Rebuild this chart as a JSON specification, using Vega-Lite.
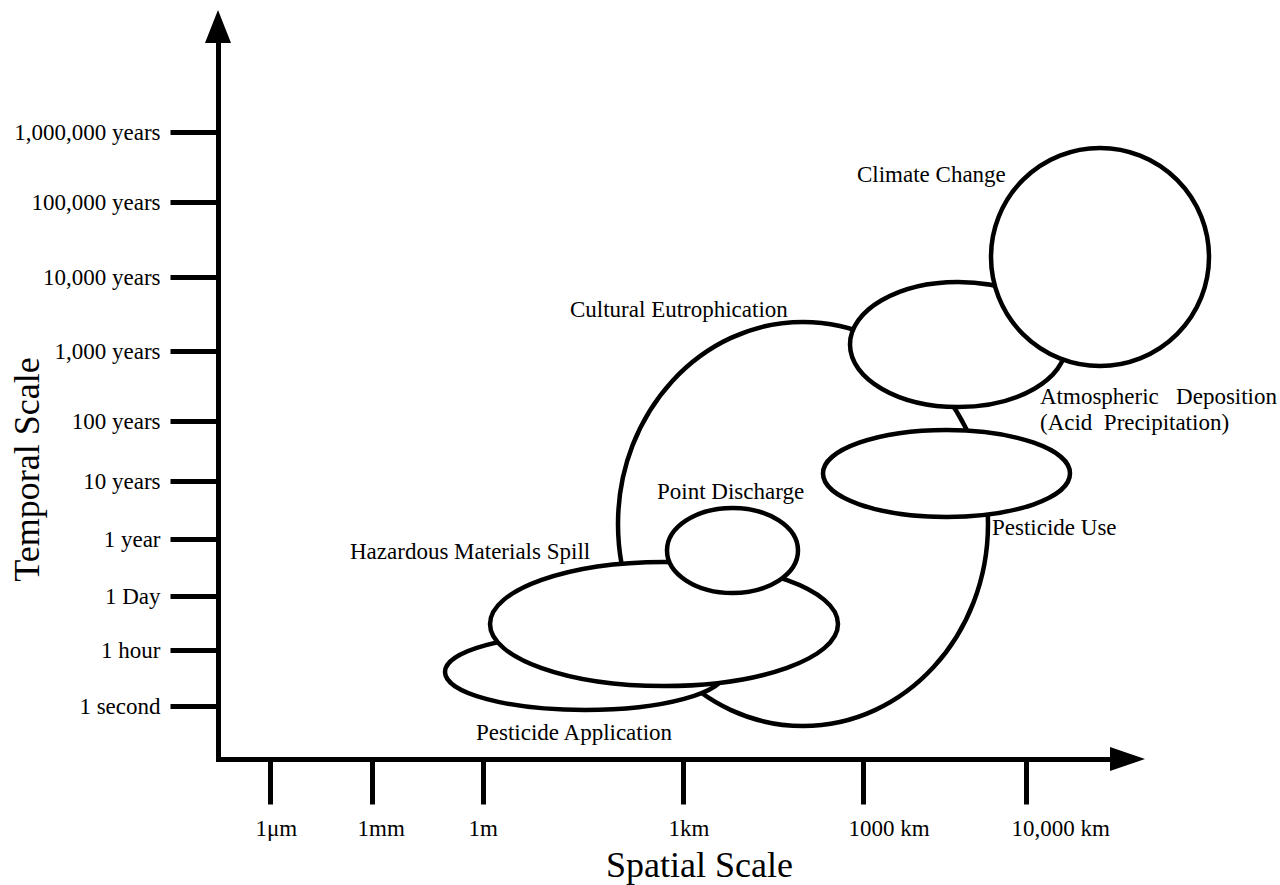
{
  "$schema": "https://vega.github.io/schema/vega-lite/v6.json",
  "width": 912,
  "height": 734,
  "autosize": {"type": "none"},
  "padding": {"left": 218, "top": 25, "right": 150, "bottom": 126},
  "background": "white",
  "config": {"view": {"stroke": null}},
  "layer": [
    {
      "data": {"values": [
        {"name": "Cultural Eutrophication", "x": 585, "y": 235, "w": 370},
        {"name": "Pesticide Application", "x": 367, "y": 87, "w": 280},
        {"name": "Hazardous Materials Spill", "x": 446, "y": 135, "w": 348},
        {"name": "Point Discharge", "x": 514.5, "y": 208.5, "w": 131},
        {"name": "Pesticide Use", "x": 728.5, "y": 285.5, "w": 247},
        {"name": "Atmospheric Deposition", "x": 740, "y": 414.5, "w": 216},
        {"name": "Climate Change", "x": 882, "y": 502, "w": 218}
      ]},
      "mark": {"type": "point", "filled": true, "fill": "white", "stroke": "black", "strokeWidth": 4.5, "opacity": 1, "fillOpacity": 1, "strokeOpacity": 1},
      "encoding": {
        "x": {
          "field": "x", "type": "quantitative",
          "scale": {"domain": [0, 912], "nice": false, "zero": false},
          "axis": {
            "values": [52, 154, 265, 465, 645, 808],
            "labelExpr": "['1μm','1mm','1m','1km','1000 km','10,000 km'][indexof([52,154,265,465,645,808], datum.value)]",
            "grid": false,
            "domain": true, "domainColor": "black", "domainWidth": 5, "domainCap": "square",
            "ticks": true, "tickColor": "black", "tickWidth": 5, "tickSize": 45,
            "labelFont": "Liberation Serif", "labelFontSize": 23, "labelColor": "black",
            "labelAlign": "left", "labelOffset": -15, "labelPadding": 13, "labelBaseline": "top",
            "labelFlush": false, "labelOverlap": false, "labelBound": false,
            "title": "Spatial Scale",
            "titleFont": "Liberation Serif", "titleFontSize": 36, "titleFontWeight": "normal", "titleColor": "black",
            "titleX": 481, "titleY": 117, "titleAlign": "center", "titleBaseline": "alphabetic", "titleAngle": 0
          }
        },
        "y": {
          "field": "y", "type": "quantitative",
          "scale": {"domain": [0, 734], "nice": false, "zero": false},
          "axis": {
            "values": [627, 557, 482, 408, 338, 278, 220, 163, 109, 53],
            "labelExpr": "['1,000,000 years','100,000 years','10,000 years','1,000 years','100 years','10 years','1 year','1 Day','1 hour','1 second'][indexof([627,557,482,408,338,278,220,163,109,53], datum.value)]",
            "grid": false,
            "domain": true, "domainColor": "black", "domainWidth": 5, "domainCap": "square",
            "ticks": true, "tickColor": "black", "tickWidth": 5, "tickSize": 48,
            "labelFont": "Liberation Serif", "labelFontSize": 23, "labelColor": "black",
            "labelAlign": "right", "labelPadding": 10, "labelBaseline": "middle",
            "labelFlush": false, "labelOverlap": false, "labelBound": false,
            "title": "Temporal Scale",
            "titleFont": "Liberation Serif", "titleFontSize": 36, "titleFontWeight": "normal", "titleColor": "black",
            "titleX": -180, "titleY": 444, "titleAlign": "center", "titleBaseline": "alphabetic", "titleAngle": -90
          }
        },
        "size": {
          "field": "w", "type": "quantitative",
          "scale": {"type": "pow", "exponent": 2, "domain": [0, 912], "range": [0, 831744], "zero": true, "nice": false},
          "legend": null
        },
        "shape": {
          "field": "name", "type": "nominal",
          "scale": {
            "domain": ["Cultural Eutrophication", "Pesticide Application", "Hazardous Materials Spill", "Point Discharge", "Pesticide Use", "Atmospheric Deposition", "Climate Change"],
            "range": [
              "M -1 0 C -1 -0.6031 -0.5523 -1.092 0 -1.092 C 0.5523 -1.092 1 -0.6031 1 0 C 1 0.6031 0.5523 1.092 0 1.092 C -0.5523 1.092 -1 0.6031 -1 0 Z",
              "M -1 0 C -1 -0.1499 -0.5523 -0.2714 0 -0.2714 C 0.5523 -0.2714 1 -0.1499 1 0 C 1 0.1499 0.5523 0.2714 0 0.2714 C -0.5523 0.2714 -1 0.1499 -1 0 Z",
              "M -1 0 C -1 -0.1968 -0.5523 -0.3563 0 -0.3563 C 0.5523 -0.3563 1 -0.1968 1 0 C 1 0.1968 0.5523 0.3563 0 0.3563 C -0.5523 0.3563 -1 0.1968 -1 0 Z",
              "M -1 0 C -1 -0.3584 -0.5523 -0.6489 0 -0.6489 C 0.5523 -0.6489 1 -0.3584 1 0 C 1 0.3584 0.5523 0.6489 0 0.6489 C -0.5523 0.6489 -1 0.3584 -1 0 Z",
              "M -1 0 C -1 -0.1945 -0.5523 -0.3522 0 -0.3522 C 0.5523 -0.3522 1 -0.1945 1 0 C 1 0.1945 0.5523 0.3522 0 0.3522 C -0.5523 0.3522 -1 0.1945 -1 0 Z",
              "M -1 0 C -1 -0.3196 -0.5523 -0.5787 0 -0.5787 C 0.5523 -0.5787 1 -0.3196 1 0 C 1 0.3196 0.5523 0.5787 0 0.5787 C -0.5523 0.5787 -1 0.3196 -1 0 Z",
              "circle"
            ]
          },
          "legend": null
        }
      }
    },
    {
      "data": {"values": [{"x": 909.5, "y": 0}]},
      "mark": {"type": "point", "shape": "M 1 0 L -1 -0.69 L -1 0.69 Z", "size": 1225, "filled": true, "fill": "black", "strokeWidth": 0, "opacity": 1},
      "encoding": {
        "x": {"field": "x", "type": "quantitative"},
        "y": {"field": "y", "type": "quantitative"}
      }
    },
    {
      "data": {"values": [{"x": 0, "y": 732.5}]},
      "mark": {"type": "point", "shape": "M 0 -1 L 0.79 1 L -0.79 1 Z", "size": 1089, "filled": true, "fill": "black", "strokeWidth": 0, "opacity": 1},
      "encoding": {
        "x": {"field": "x", "type": "quantitative"},
        "y": {"field": "y", "type": "quantitative"}
      }
    },
    {
      "data": {"values": [
        {"label": "Climate Change", "x": 639, "y": 584},
        {"label": "Atmospheric\u00a0\u00a0\u00a0Deposition", "x": 822, "y": 362},
        {"label": "(Acid\u00a0\u00a0Precipitation)", "x": 822, "y": 336},
        {"label": "Cultural Eutrophication", "x": 352, "y": 449},
        {"label": "Point Discharge", "x": 439, "y": 267},
        {"label": "Hazardous Materials Spill", "x": 132, "y": 207},
        {"label": "Pesticide Use", "x": 774, "y": 231},
        {"label": "Pesticide Application", "x": 258, "y": 26}
      ]},
      "mark": {"type": "text", "font": "Liberation Serif", "fontSize": 23, "align": "left", "baseline": "middle", "color": "black"},
      "encoding": {
        "x": {"field": "x", "type": "quantitative"},
        "y": {"field": "y", "type": "quantitative"},
        "text": {"field": "label"}
      }
    }
  ]
}
